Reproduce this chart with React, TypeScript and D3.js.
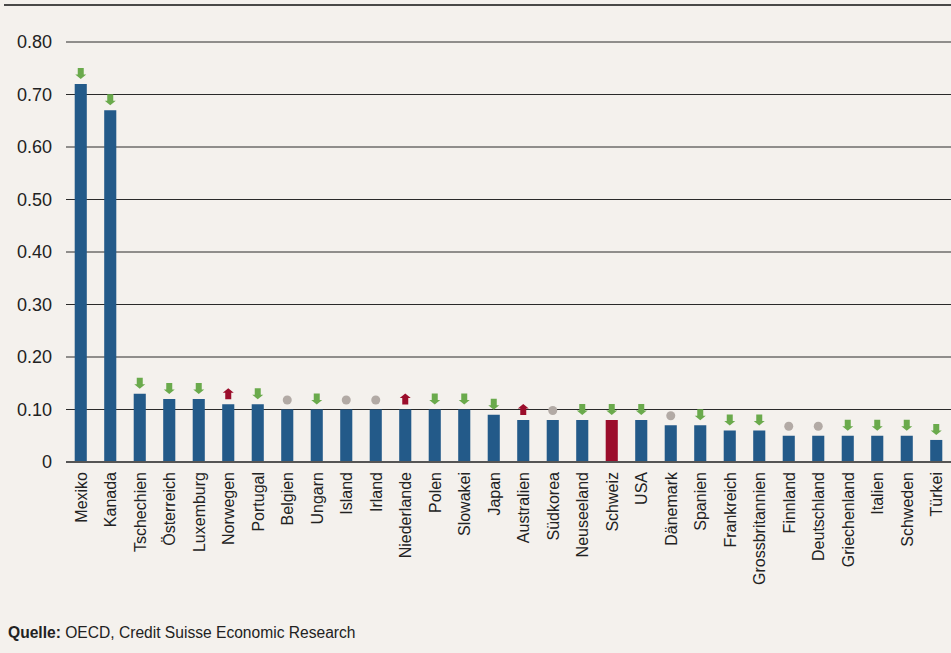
import React from "react";
import * as d3 from "d3";

const countries = [
  "Mexiko", "Kanada", "Tschechien", "Österreich", "Luxemburg", "Norwegen", "Portugal",
  "Belgien", "Ungarn", "Island", "Irland", "Niederlande", "Polen", "Slowakei", "Japan",
  "Australien", "Südkorea", "Neuseeland", "Schweiz", "USA", "Dänemark", "Spanien",
  "Frankreich", "Grossbritannien", "Finnland", "Deutschland", "Griechenland", "Italien",
  "Schweden", "Türkei",
];
const values = [
  0.72, 0.67, 0.13, 0.12, 0.12, 0.11, 0.11,
  0.10, 0.10, 0.10, 0.10, 0.10, 0.10, 0.10, 0.09,
  0.08, 0.08, 0.08, 0.08, 0.08, 0.07, 0.07,
  0.06, 0.06, 0.05, 0.05, 0.05, 0.05,
  0.05, 0.042,
];
// trend markers: "down" (green arrow), "up" (red arrow), "flat" (grey dot)
const trends = [
  "down", "down", "down", "down", "down", "up", "down",
  "flat", "down", "flat", "flat", "up", "down", "down", "down",
  "up", "flat", "down", "down", "down", "flat", "down",
  "down", "down", "flat", "flat", "down", "down",
  "down", "down",
];
const highlight = "Schweiz";
const yTicks = [0, 0.1, 0.2, 0.3, 0.4, 0.5, 0.6, 0.7, 0.8];
const source = "OECD, Credit Suisse Economic Research";

const W = 951;
const H = 653;
const BG = "#f4f1ed";
const BLUE = "#235a89";
const RED = "#9b0d2b";
const GREEN = "#6aaa4c";
const GREY = "#b2aaa5";
const FONT = "'Liberation Sans', Arial, Helvetica, sans-serif";

export default function App() {
  const x = d3.scaleBand<string>().domain(countries).range([66, 951]).paddingInner(0.59).paddingOuter(0.295);
  const y = d3.scaleLinear().domain([0, 0.8]).range([462, 42]);
  const bw = x.bandwidth();

  const arrow = (cx: number, top: number, dir: string) => {
    const b = top - 5;
    const t = top - 16;
    const sw = 3;
    const hw = 5.5;
    if (dir === "down") {
      const hy = b - 4.5;
      return `M${cx - sw},${t} L${cx + sw},${t} L${cx + sw},${hy} L${cx + hw},${hy} L${cx},${b} L${cx - hw},${hy} L${cx - sw},${hy} Z`;
    }
    const hy = t + 4.5;
    return `M${cx - sw},${b} L${cx + sw},${b} L${cx + sw},${hy} L${cx + hw},${hy} L${cx},${t} L${cx - hw},${hy} L${cx - sw},${hy} Z`;
  };

  return (
    <svg width={W} height={H} style={{ position: "absolute", left: 0, top: 0, background: BG }}>
      <rect x={0} y={0} width={W} height={H} fill={BG} />
      <line x1={4} x2={W} y1={5} y2={5} stroke="#111" strokeWidth={1.5} />
      {yTicks.map((t) => (
        <g key={t}>
          {t !== 0 && (
            <line x1={66} x2={W} y1={y(t)} y2={y(t)} stroke="#2a2a2a" strokeWidth={1} />
          )}
          <text
            x={52}
            y={y(t)}
            dy="0.36em"
            textAnchor="end"
            fontFamily={FONT}
            fontSize={18}
            fill="#222"
          >
            {t === 0 ? "0" : d3.format(".2f")(t)}
          </text>
        </g>
      ))}
      {countries.map((c, i) => {
        const bx = x(c)!;
        const cx = bx + bw / 2;
        const top = y(values[i]);
        const tr = trends[i];
        return (
          <g key={c}>
            <rect x={bx} y={top} width={bw} height={y(0) - top} fill={c === highlight ? RED : BLUE} />
            {tr === "flat" ? (
              <circle cx={cx} cy={top - 9.5} r={4.5} fill={GREY} />
            ) : (
              <path d={arrow(cx, top, tr)} fill={tr === "down" ? GREEN : RED} />
            )}
            <text
              transform={`translate(${cx},472) rotate(-90)`}
              dy="0.36em"
              textAnchor="end"
              fontFamily={FONT}
              fontSize={16}
              fill="#222"
            >
              {c}
            </text>
          </g>
        );
      })}
      <line x1={66} x2={W} y1={y(0)} y2={y(0)} stroke="#555" strokeWidth={1.8} />
      <text x={8} y={638} fontFamily={FONT} fontSize={15.6} fill="#222">
        <tspan fontWeight="bold">Quelle:</tspan> {source}
      </text>
    </svg>
  );
}
